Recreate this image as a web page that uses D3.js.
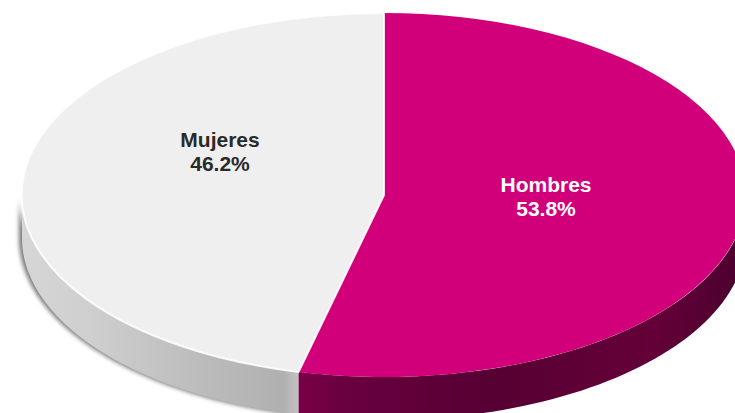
<!DOCTYPE html>
<html><head><meta charset="utf-8">
<script src="https://cdn.jsdelivr.net/npm/d3@7"></script>
<style>html,body{margin:0;padding:0;background:#fff;overflow:hidden}svg{display:block}</style>
</head><body><svg id="c" width="735" height="413"></svg>
<script>
const categories = ["Hombres", "Mujeres"];
const values = [53.8, 46.2];
const labelTexts = ["53.8%", "46.2%"];
const topColors = ["#d1007a", "#efefef"];
const labelColors = ["#ffffff", "#2a2a2a"];
const labelSpots = [[546, 192], [220, 147]];
const magentaWall = [[0,"#7a0047"],[0.1,"#6a003e"],[0.45,"#560034"],[0.8,"#650039"],[1,"#4e0030"]];
const greyWall = [[0,"#c0c0c0"],[0.05,"#b0b0b0"],[0.35,"#bcbcbc"],[0.75,"#cfcfcf"],[1,"#d6d6d6"]];

const cx = 384, cy = 195, rx = 362, ry = 182, depth = 43;
const svg = d3.select("#c");
const defs = svg.append("defs");
defs.append("filter").attr("id","soft").attr("x","-5%").attr("y","-5%").attr("width","110%").attr("height","110%")
  .append("feGaussianBlur").attr("stdDeviation",2.2);

[{id:"w0",x1:297,x2:735,st:magentaWall},{id:"w1",x1:297,x2:20,st:greyWall}].forEach(g=>{
  const lg = defs.append("linearGradient").attr("id",g.id).attr("gradientUnits","userSpaceOnUse")
    .attr("x1",g.x1).attr("x2",g.x2).attr("y1",0).attr("y2",0);
  g.st.forEach(s=>lg.append("stop").attr("offset",s[0]).attr("stop-color",s[1]));
});

const pie = d3.pie().sort(null).startAngle(0).endAngle(2*Math.PI);
const arcs = pie(values);
const arc = d3.arc().innerRadius(0).outerRadius(1);
const xAt = d3.scaleLinear().domain([-1,1]).range([cx-rx,cx+rx]);
const yAt = d3.scaleLinear().domain([-1,1]).range([cy-ry,cy+ry]);

function wallPath(a){
  const lo = Math.max(a.startAngle, Math.PI/2), hi = Math.min(a.endAngle, 3*Math.PI/2);
  const ang = d3.range(0,61).map(i=>lo+(hi-lo)*i/60);
  const top = ang.map(t=>[xAt(Math.sin(t)), yAt(-Math.cos(t))]);
  const bot = ang.slice().reverse().map(t=>[xAt(Math.sin(t)), yAt(-Math.cos(t))+depth]);
  return d3.line()(top.concat(bot))+"Z";
}

// soft shadow hugging the grey wall's outer edge
svg.append("path").attr("d",wallPath(arcs[1])).attr("fill","#555").attr("filter","url(#soft)")
  .attr("transform","translate(-3,0)").attr("opacity",0.8);

svg.selectAll("path.wall").data(arcs).enter().append("path").attr("class","wall")
  .attr("d",wallPath).attr("fill",(d,i)=>`url(#w${i})`);

const face = svg.append("g").attr("transform",`translate(${cx},${cy}) scale(${rx},${ry})`);
face.selectAll("path.top").data(arcs).enter().append("path").attr("class","top")
  .attr("d",arc).attr("fill",(d,i)=>topColors[i]);

// pale rim around the grey slice (arc and both radii)
face.append("path").datum(arcs[1]).attr("d",arc)
  .attr("fill","none").attr("stroke","#fff").attr("stroke-width",2)
  .attr("stroke-opacity",0.85).attr("vector-effect","non-scaling-stroke");

const labels = svg.selectAll("text.lab").data(arcs).enter().append("text").attr("class","lab")
  .attr("text-anchor","middle").attr("font-family","'Liberation Sans',Arial,sans-serif")
  .attr("font-weight","bold").attr("font-size",21)
  .attr("fill",(d,i)=>labelColors[i]);
labels.append("tspan").attr("x",(d,i)=>labelSpots[i][0]).attr("y",(d,i)=>labelSpots[i][1]).text((d,i)=>categories[i]);
labels.append("tspan").attr("x",(d,i)=>labelSpots[i][0]).attr("y",(d,i)=>labelSpots[i][1]+24).text((d,i)=>labelTexts[i]);
</script></body></html>
